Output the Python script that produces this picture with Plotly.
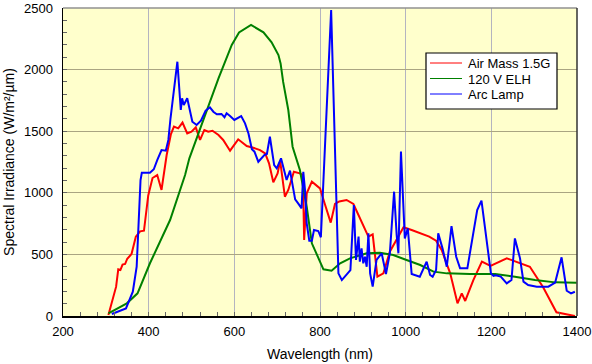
import plotly.graph_objects as go

# Air Mass 1.5G
am_nm = [306, 324, 329, 334, 339, 345, 350, 360, 370, 380, 389, 399, 409, 420, 430, 442, 452, 459,
         469, 479, 490, 500, 510, 520, 530, 539, 549, 563, 574, 590, 609, 629, 644, 660, 672, 681,
         691, 701, 707, 718, 726, 739, 753, 760, 763, 769, 781, 800, 812, 825, 835, 845, 862, 878,
         913, 923, 934, 948, 963, 983, 995, 1014, 1037, 1055, 1071, 1084, 1104, 1121, 1131, 1139,
         1158, 1178, 1198, 1220, 1236, 1290, 1321, 1352, 1395]
am_val = [8, 238, 379, 373, 417, 422, 465, 503, 644, 687, 692, 979, 1120, 1144, 1023, 1307, 1477, 1537,
          1523, 1570, 1482, 1496, 1531, 1429, 1510, 1496, 1504, 1469, 1429, 1342, 1434, 1380, 1366, 1347, 1320, 1239,
          1085, 1158, 1260, 968, 1023, 1171, 1158, 1144, 617, 996, 1090, 1036, 901, 758, 909, 930, 942, 909,
          644, 663, 320, 346, 522, 644, 720, 698, 671, 644, 611, 536, 346, 103, 184, 122,
          292, 441, 406, 441, 468, 400, 233, 30, 0]

# 120 V ELH
elh_nm = [306, 349, 374, 403, 450, 485, 495, 532, 563, 594, 611, 639, 668, 687, 703, 708, 714, 726,
          736, 753, 769, 781, 808, 827, 847, 870, 909, 940, 971, 1002, 1034, 1065, 1096, 1150,
          1209, 1255, 1302, 1349, 1399]
elh_val = [22, 103, 184, 428, 779, 1144, 1280, 1631, 1929, 2200, 2302, 2362, 2302, 2221, 2118, 2050, 1900, 1672,
           1374, 1185, 887, 590, 379, 368, 428, 468, 509, 514, 495, 455, 414, 360, 346, 340,
           341, 319, 292, 273, 270]

# Arc Lamp
arc_nm = [314, 347, 363, 372, 381, 384, 403, 412, 420, 430, 440, 446, 451, 457, 467, 475, 478, 482,
          490, 502, 512, 522, 533, 543, 551, 559, 570, 577, 582, 590, 600, 616, 625, 633, 641, 647,
          656, 670, 676, 683, 693, 699, 709, 715, 722, 730, 736, 742, 749, 757, 761, 765, 769, 775,
          781, 786, 796, 802, 826, 839, 843, 851, 871, 879, 884, 890, 893, 897, 901, 905, 909, 913,
          917, 923, 932, 944, 954, 963, 973, 979, 983, 989, 998, 1005, 1014, 1033, 1049, 1057, 1063,
          1071, 1076, 1086, 1096, 1107, 1118, 1127, 1144, 1167, 1177, 1199, 1205, 1210, 1222, 1236,
          1247, 1255, 1267, 1275, 1286, 1306, 1333, 1349, 1364, 1376, 1386, 1395]
arc_val = [16, 62, 197, 400, 1104, 1163, 1163, 1191, 1266, 1347, 1342, 1429, 1605, 1794, 2064, 1672, 1767, 1713,
           1767, 1577, 1550, 1585, 1667, 1694, 1658, 1637, 1640, 1613, 1645, 1623, 1591, 1623, 1564, 1482, 1353, 1334,
           1252, 1307, 1315, 1455, 1225, 1199, 1280, 1199, 1104, 1180, 1077, 947, 914, 874, 1171, 1023, 752, 611,
           611, 698, 690, 639, 2484, 671, 346, 292, 373, 901, 455, 644, 441, 549, 428, 481, 400, 671,
           346, 238, 455, 509, 341, 509, 1009, 657, 509, 1334, 630, 711, 341, 319, 441, 333, 319,
           373, 671, 549, 400, 730, 481, 387, 387, 860, 936, 346, 325, 330, 320, 265,
           292, 630, 468, 279, 252, 238, 238, 271, 476, 205, 184, 197]

series_names = ["Air Mass 1.5G", "120 V ELH", "Arc Lamp"]
series_colors = ["#ff0000", "#008000", "#0000ff"]

x_ticks = [200, 400, 600, 800, 1000, 1200, 1400]
y_ticks = [0, 500, 1000, 1500, 2000, 2500]

W, H = 592, 364
L, R, T, B = 63, 15, 8, 48
PW, PH = W - L - R, H - T - B


def px_x(p):
    return (p - L) / PW


def px_y(p):
    return (H - B - p) / PH


fig = go.Figure()
for xs, ys, nm, col in zip([am_nm, elh_nm, arc_nm], [am_val, elh_val, arc_val], series_names, series_colors):
    fig.add_trace(go.Scatter(x=xs, y=ys, mode="lines", name=nm,
                             line=dict(color=col, width=2), showlegend=False))

font_family = "Liberation Sans, Arial, sans-serif"
fig.update_layout(
    width=W, height=H,
    margin=dict(l=L, r=R, t=T, b=B),
    paper_bgcolor="white",
    plot_bgcolor="#ffffcc",
    font=dict(family=font_family, size=13, color="black"),
    showlegend=False,
    xaxis=dict(range=[200, 1400], tickvals=x_ticks, showgrid=True, gridcolor="#b4b4c0", gridwidth=1,
               showline=True, linecolor="black", linewidth=1.5, ticks="inside", ticklen=4,
               tickcolor="#666", zeroline=False, automargin=False, ticklabelstandoff=3,
               minor=dict(dtick=40, tick0=200, ticks="inside", ticklen=4, tickcolor="#666", showgrid=False),
               title=dict(text="Wavelength (nm)", font=dict(size=14), standoff=11)),
    yaxis=dict(range=[0, 2500], tickvals=y_ticks, showgrid=True, gridcolor="#aaa582", gridwidth=1,
               showline=True, linecolor="black", linewidth=1.5, ticks="inside", ticklen=4,
               tickcolor="#666", zeroline=False, automargin=False, ticklabelstandoff=6,
               minor=dict(dtick=100, tick0=0, ticks="inside", ticklen=4, tickcolor="#666", showgrid=False),
               title=dict(text="Spectral Irradiance (W/m²/µm)", font=dict(size=14), standoff=6)),
)
# plot frame (top grey, right dark)
fig.add_shape(type="line", xref="paper", yref="paper", x0=0, x1=1, y0=1, y1=1,
              line=dict(color="#909090", width=1.5))
fig.add_shape(type="line", xref="paper", yref="paper", x0=1, x1=1, y0=0, y1=1,
              line=dict(color="#333333", width=1.5))

# legend box drawn manually
fig.add_shape(type="rect", xref="paper", yref="paper",
              x0=px_x(426), x1=px_x(557), y0=px_y(109), y1=px_y(53),
              fillcolor="white", line=dict(color="black", width=1.2))
row_y = [63, 78.5, 94]
for ry, nm, col in zip(row_y, series_names, series_colors):
    fig.add_shape(type="line", xref="paper", yref="paper",
                  x0=px_x(430), x1=px_x(462), y0=px_y(ry), y1=px_y(ry),
                  line=dict(color=col, width=1))
    fig.add_annotation(xref="paper", yref="paper", x=px_x(466), y=px_y(ry + 1),
                       xanchor="left", yanchor="middle", text=nm, showarrow=False,
                       font=dict(size=13, color="black"))

fig.write_html("out.html", config={"displayModeBar": False, "staticPlot": True},
               post_script="document.body.style.margin='0px';document.body.style.padding='0px';")
